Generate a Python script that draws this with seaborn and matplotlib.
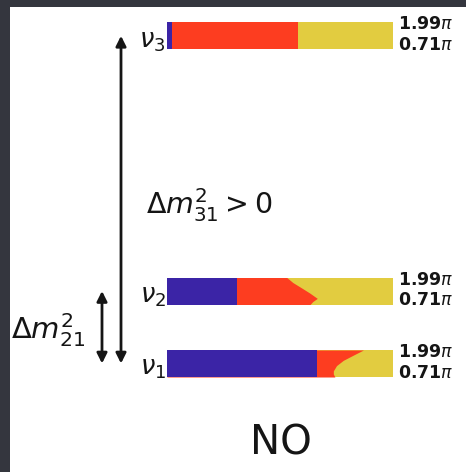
import numpy as np
import pandas as pd
import seaborn as sns
import matplotlib
matplotlib.use("Agg")
import matplotlib.pyplot as plt

# ---------------- data ----------------
states = ["1", "2", "3"]
levels = [0.0, 1.0, 4.52]            # schematic mass-squared levels (units of dm21^2)
delta_pi = [0.71, 0.85, 1.00, 1.25, 1.50, 1.75, 1.99]   # CP phase / pi across bar height
ue = [0.662, 0.310, 0.021]           # |U_ei|^2 (blue)
umu_1 = [0.081, 0.074, 0.074, 0.088, 0.118, 0.163, 0.207]  # |U_mu1|^2 (red)
umu_2 = [0.323, 0.335, 0.355, 0.322, 0.285, 0.247, 0.220]  # |U_mu2|^2
umu_3 = [0.557, 0.557, 0.557, 0.557, 0.557, 0.557, 0.557]  # |U_mu3|^2
delta_labels = ["1.99$\\pi$", "0.71$\\pi$"]
dm31_label = "$\\Delta m^2_{31} > 0$"
dm21_label = "$\\Delta m^2_{21}$"
title = "NO"

# ---------------- style ----------------
sns.set_theme(style="white")
plt.rcParams["font.family"] = ["DejaVu Sans"]
plt.rcParams["mathtext.fontset"] = "dejavusans"

c_e, c_mu, c_tau = "#3b24a6", "#fd3d20", "#e2cc40"
ink = "#151515"

W, H = 466, 472
fig = plt.figure(figsize=(W / 100, H / 100), dpi=100, facecolor="#34363e")
ax = fig.add_axes([10 / W, 0, (W - 10) / W, (H - 7) / H])
ax.set_facecolor("white")

# data coordinate system: bar x 0..1, level units
px_x = 226.0   # pixels per x unit
px_y = 72.5    # pixels per level unit
ax.set_xlim((10 - 167) / px_x, (466 - 167) / px_x)
ax.set_ylim(-(472 - 363.5) / px_y, (363.5 - 7) / px_y)
ax.set_xticks([]); ax.set_yticks([])
sns.despine(ax=ax, left=True, bottom=True)

half = 13.5 / px_y
umus = [np.array(umu_1), np.array(umu_2), np.array(umu_3)]

rows = []
for i, s in enumerate(states):
    for d, m in zip(delta_pi, umus[i]):
        rows.append(dict(state=s, delta=d, e=ue[i], mu=m))
df = pd.DataFrame(rows)

for i, s in enumerate(states):
    sub = df[df.state == s]
    lv = levels[i]
    yy = lv - half + (sub.delta.values - 0.71) / (1.99 - 0.71) * 2 * half
    e = sub.e.values
    em = e + sub.mu.values
    # layered so that no seams appear between colours
    ax.fill_betweenx(yy, 0, np.ones_like(e), color=c_tau, lw=0)
    ax.fill_betweenx(yy, 0, em, color=c_mu, lw=0)
    ax.fill_betweenx(yy, 0, e, color=c_e, lw=0)
    # nu label
    ax.annotate(f"$\\nu_{s}$", xy=(-0.006, lv), xytext=(0, -3.5), textcoords="offset points",
                ha="right", va="center", fontsize=18.5, color=ink)
    # delta range labels
    ax.annotate(delta_labels[0], xy=(1.02, lv + half), xytext=(0, -1.5), textcoords="offset points",
                ha="left", va="center", fontsize=12.5, fontweight="bold", color=ink)
    ax.annotate(delta_labels[1], xy=(1.02, lv - half), xytext=(0, 3), textcoords="offset points",
                ha="left", va="center", fontsize=12.5, fontweight="bold", color=ink)

arrow_kw = dict(arrowstyle="<|-|>", lw=2, color=ink, mutation_scale=15, shrinkA=0, shrinkB=0)
x_big = (121 - 167) / px_x
x_small = (102 - 167) / px_x
ax.annotate("", xy=(x_big, levels[2]), xytext=(x_big, levels[0]), arrowprops=arrow_kw)
ax.annotate("", xy=(x_small, levels[1]), xytext=(x_small, levels[0]), arrowprops=arrow_kw)

ax.text((146 - 167) / px_x, 2.19, dm31_label, ha="left", va="center", fontsize=20.5, color=ink)
ax.text((11 - 167) / px_x, 0.46, dm21_label, ha="left", va="center", fontsize=21, color=ink)
ax.text((281 - 167) / px_x, -1.097, title, ha="center", va="center", fontsize=29, color=ink)

fig.savefig("out.png", dpi=100, facecolor=fig.get_facecolor())
